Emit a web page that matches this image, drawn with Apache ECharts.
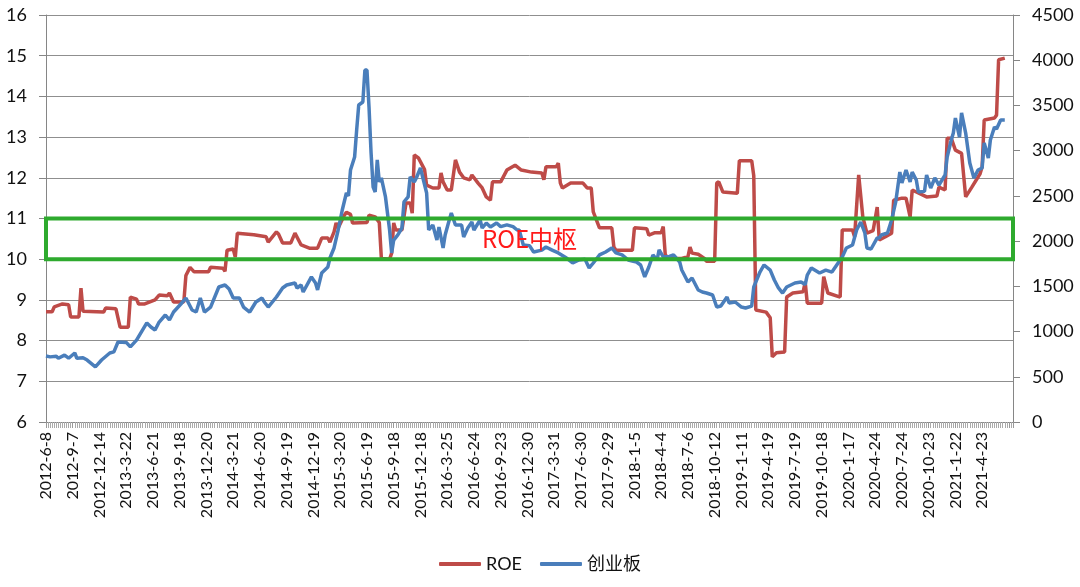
<!DOCTYPE html>
<html>
<head>
<meta charset="utf-8">
<title>ROE 与 创业板</title>
<script src="https://cdn.jsdelivr.net/npm/echarts@6/dist/echarts.min.js"></script>
<style>
  html, body { margin: 0; padding: 0; background: #fff; }
  #main { width: 1080px; height: 587px; }
</style>
</head>
<body>
<div id="main"></div>
<script>
// tick labels, one every 13 trading weeks
var dateLabels = ['2012-6-8', '2012-9-7', '2012-12-14', '2013-3-22', '2013-6-21', '2013-9-18',
  '2013-12-20', '2014-3-21', '2014-6-20', '2014-9-19', '2014-12-19', '2015-3-20', '2015-6-19',
  '2015-9-18', '2015-12-18', '2016-3-25', '2016-6-24', '2016-9-23', '2016-12-30', '2017-3-31',
  '2017-6-30', '2017-9-29', '2018-1-5', '2018-4-4', '2018-7-6', '2018-10-12', '2019-1-11',
  '2019-4-19', '2019-7-19', '2019-10-18', '2020-1-17', '2020-4-24', '2020-7-24', '2020-10-23',
  '2021-1-22', '2021-4-23'];
var weekStep = 13;
var weekCount = 470;

// [week index, ROE %] (turning points)
var roeData = [
  [0, 8.71], [3, 8.71], [4, 8.83], [8, 8.9], [11, 8.88], [12, 8.58], [16, 8.58], [17, 9.29], [18, 8.72],
  [28, 8.7], [29, 8.8], [34, 8.78], [36, 8.33], [40, 8.33], [41, 9.07], [44, 9.02], [45, 8.9], [48, 8.9],
  [53, 9.0], [55, 9.12], [59, 9.1], [60, 9.17], [62, 8.95], [67, 8.95], [68, 9.6], [70, 9.8], [72, 9.69],
  [79, 9.69], [80, 9.8], [86, 9.78], [87, 9.7], [88, 10.22], [91, 10.25], [92, 10.05], [93, 10.64],
  [101, 10.6], [107, 10.55], [108, 10.42], [112, 10.67], [113, 10.62], [115, 10.4], [119, 10.4],
  [121, 10.64], [124, 10.35], [128, 10.27], [132, 10.27], [134, 10.52], [137, 10.52], [138, 10.42],
  [140, 10.67], [141, 10.89], [142, 10.77], [145, 11.08], [146, 11.15], [148, 11.1], [149, 10.89],
  [156, 10.9], [157, 11.08], [160, 11.04], [162, 10.9], [163, 10.02], [167, 10.0], [168, 10.15],
  [169, 10.89], [170, 10.72], [173, 10.72], [175, 11.38], [177, 11.38], [178, 11.13], [179, 12.56],
  [181, 12.49], [184, 12.2], [185, 11.82], [188, 11.75], [191, 11.75], [192, 12.12], [193, 11.9],
  [195, 11.7], [197, 11.7], [199, 12.44], [201, 12.14], [203, 12.0], [206, 11.95], [207, 12.07],
  [210, 11.87], [212, 11.75], [214, 11.53], [216, 11.45], [217, 11.9], [221, 11.9], [224, 12.19],
  [228, 12.31], [231, 12.19], [236, 12.14], [241, 12.12], [242, 11.95], [243, 12.27], [248, 12.27],
  [249, 12.36], [250, 11.87], [251, 11.75], [255, 11.87], [261, 11.87], [263, 11.75], [265, 11.75],
  [266, 11.16], [269, 10.77], [275, 10.77], [276, 10.3], [277, 10.22], [285, 10.22], [286, 10.77],
  [292, 10.75], [293, 10.59], [296, 10.65], [299, 10.65], [300, 10.8], [301, 10.1], [303, 10.02],
  [309, 10.02], [312, 10.06], [313, 10.3], [314, 10.15], [317, 10.12], [320, 10.02], [321, 9.95],
  [325, 9.95], [326, 11.87], [327, 11.9], [329, 11.65], [336, 11.62], [337, 12.42], [343, 12.42],
  [344, 12.05], [345, 8.75], [350, 8.7], [352, 8.56], [353, 7.6], [355, 7.7], [359, 7.72], [360, 9.07],
  [363, 9.17], [368, 9.2], [369, 9.44], [370, 8.92], [377, 8.92], [378, 9.57], [380, 9.17], [386, 9.07],
  [387, 10.72], [392, 10.72], [393, 10.55], [395, 12.07], [397, 11.04], [399, 10.64], [402, 10.7],
  [404, 11.28], [405, 10.47], [408, 10.55], [411, 10.64], [412, 11.45], [416, 11.5], [418, 11.5],
  [420, 11.04], [421, 11.7], [428, 11.53], [433, 11.55], [434, 11.77], [437, 11.7], [438, 12.97],
  [440, 12.97], [442, 12.68], [445, 12.6], [447, 11.53], [450, 11.77], [454, 12.1], [455, 12.27],
  [456, 13.42], [461, 13.47], [462, 13.54], [463, 14.9], [466, 14.94]
];

// [week index, 创业板 index level] (turning points)
var cybData = [
  [0, 730], [2, 720], [5, 727], [6, 705], [9, 740], [11, 705], [14, 763], [15, 705], [18, 710],
  [20, 685], [24, 610], [27, 685], [31, 763], [33, 775], [35, 885], [39, 880], [41, 830], [44, 905],
  [49, 1095], [51, 1050], [53, 1017], [55, 1105], [58, 1183], [60, 1128], [62, 1216], [66, 1316],
  [68, 1371], [71, 1238], [73, 1216], [75, 1371], [77, 1216], [80, 1271], [84, 1493], [87, 1515],
  [89, 1470], [91, 1371], [94, 1371], [96, 1271], [99, 1216], [102, 1327], [105, 1371], [106, 1330],
  [108, 1271], [112, 1382], [115, 1482], [117, 1515], [121, 1537], [122, 1482], [124, 1515],
  [125, 1437], [129, 1604], [131, 1537], [132, 1460], [134, 1647], [137, 1714], [138, 1813],
  [140, 1924], [142, 2123], [144, 2344], [146, 2532], [147, 2500], [148, 2786], [150, 2930],
  [151, 3229], [152, 3505], [154, 3538], [155, 3892], [156, 3892], [157, 3483], [158, 2974],
  [159, 2598], [160, 2543], [161, 2897], [162, 2654], [163, 2698], [165, 2488], [167, 2123],
  [168, 1869], [169, 2012], [171, 2068], [173, 2145], [174, 2433], [176, 2488], [177, 2709],
  [179, 2654], [180, 2698], [182, 2808], [185, 2532], [186, 2123], [188, 2178], [190, 2012],
  [191, 2156], [193, 1924], [194, 2068], [196, 2234], [197, 2311], [199, 2178], [202, 2178],
  [203, 2046], [205, 2145], [207, 2211], [208, 2123], [211, 2234], [212, 2145], [214, 2200],
  [216, 2156], [219, 2200], [221, 2160], [224, 2180], [227, 2160], [229, 2123], [230, 2123],
  [232, 1957], [235, 1950], [237, 1880], [241, 1900], [243, 1935], [246, 1900], [249, 1869],
  [253, 1813], [256, 1758], [259, 1791], [262, 1800], [264, 1703], [266, 1758], [269, 1847],
  [272, 1880], [275, 1924], [277, 1869], [280, 1847], [283, 1791], [287, 1769], [289, 1736],
  [291, 1604], [293, 1714], [295, 1847], [297, 1791], [298, 1902], [300, 1825], [303, 1830],
  [305, 1847], [308, 1769], [309, 1680], [312, 1548], [314, 1592], [317, 1460], [319, 1437],
  [321, 1426], [324, 1404], [326, 1271], [328, 1282], [331, 1382], [332, 1316], [335, 1327],
  [338, 1271], [340, 1260], [343, 1282], [344, 1493], [347, 1658], [349, 1736], [352, 1680],
  [354, 1570], [356, 1482], [358, 1426], [360, 1493], [364, 1537], [367, 1548], [369, 1520],
  [370, 1625], [372, 1703], [376, 1647], [379, 1680], [382, 1658], [385, 1758], [387, 1825],
  [389, 1924], [392, 1957], [394, 2123], [396, 2211], [398, 2090], [399, 1924], [401, 1913],
  [404, 2035], [405, 2035], [406, 2068], [409, 2090], [411, 2234], [413, 2433], [415, 2764],
  [416, 2643], [418, 2786], [420, 2654], [421, 2764], [423, 2676], [424, 2543], [427, 2550],
  [428, 2731], [430, 2587], [432, 2698], [434, 2620], [437, 2731], [438, 2930], [440, 3118],
  [441, 3195], [442, 3361], [444, 3151], [445, 3417], [447, 3195], [449, 2864], [451, 2698],
  [453, 2786], [455, 2809], [456, 3085], [458, 2919], [459, 3118], [461, 3262], [462, 3240],
  [464, 3339], [466, 3339]
];

// ROE 中枢 band (left axis units)
var bandLow = 10;
var bandHigh = 11;

var chart = echarts.init(document.getElementById('main'));
var axisFont = 'Lato, "Noto Sans CJK SC", sans-serif';

chart.setOption({
  animation: false,
  grid: { left: 46, right: 67, top: 15, bottom: 165 },
  legend: {
    bottom: 9,
    left: 'center',
    itemWidth: 42,
    itemHeight: 4,
    itemGap: 18,
    icon: 'roundRect',
    textStyle: { fontSize: 18, color: '#111', fontFamily: axisFont },
    data: ['ROE', '创业板']
  },
  xAxis: {
    type: 'value',
    min: 0,
    max: weekCount,
    interval: weekStep,
    splitLine: { show: false },
    axisLine: { lineStyle: { color: '#868686', width: 1 } },
    axisTick: { show: true, length: 6, lineStyle: { color: '#999' } },
    minorTick: { show: true, splitNumber: weekStep, length: 6, lineStyle: { color: '#aaa' } },
    axisLabel: {
      rotate: 90,
      margin: 10,
      fontSize: 16,
      color: '#111',
      fontFamily: axisFont,
      showMaxLabel: false,
      formatter: function (v) {
        var k = Math.round(v / weekStep);
        return dateLabels[k] || '';
      }
    }
  },
  yAxis: [{
    type: 'value',
    min: 6,
    max: 16,
    interval: 1,
    axisLine: { show: true, lineStyle: { color: '#868686' } },
    axisTick: { show: true, length: 7, lineStyle: { color: '#868686' } },
    splitLine: { show: true, lineStyle: { color: '#8f8f8f', width: 1 } },
    axisLabel: { fontSize: 18, color: '#111', margin: 19, fontFamily: axisFont }
  }, {
    type: 'value',
    min: 0,
    max: 4500,
    interval: 500,
    axisLine: { show: true, lineStyle: { color: '#868686' } },
    axisTick: { show: true, length: 7, lineStyle: { color: '#868686' } },
    splitLine: { show: false },
    axisLabel: {
      fontSize: 18, color: '#111', margin: 19, fontFamily: axisFont,
      formatter: function (v) { return String(v); }
    }
  }],
  series: [{
    name: 'ROE',
    type: 'line',
    yAxisIndex: 0,
    data: roeData,
    showSymbol: false,
    symbol: 'none',
    color: '#BE4B48',
    lineStyle: { width: 3.5, color: '#BE4B48' },
    z: 3,
    markArea: {
      silent: true,
      z: 6,
      itemStyle: {
        color: 'rgba(0,0,0,0)',
        borderColor: '#2EAA2E',
        borderWidth: 4,
        borderRadius: 4
      },
      label: {
        show: true,
        position: 'inside',
        color: '#FF1A1A',
        fontSize: 24,
        fontFamily: '"Noto Sans CJK SC", sans-serif'
      },
      data: [[
        { name: 'ROE中枢', xAxis: 0, yAxis: bandHigh },
        { xAxis: weekCount, yAxis: bandLow }
      ]]
    }
  }, {
    name: '创业板',
    type: 'line',
    yAxisIndex: 1,
    data: cybData,
    showSymbol: false,
    symbol: 'none',
    color: '#4A7EBB',
    lineStyle: { width: 3.5, color: '#4A7EBB' },
    z: 4
  }]
});
</script>
</body>
</html>
